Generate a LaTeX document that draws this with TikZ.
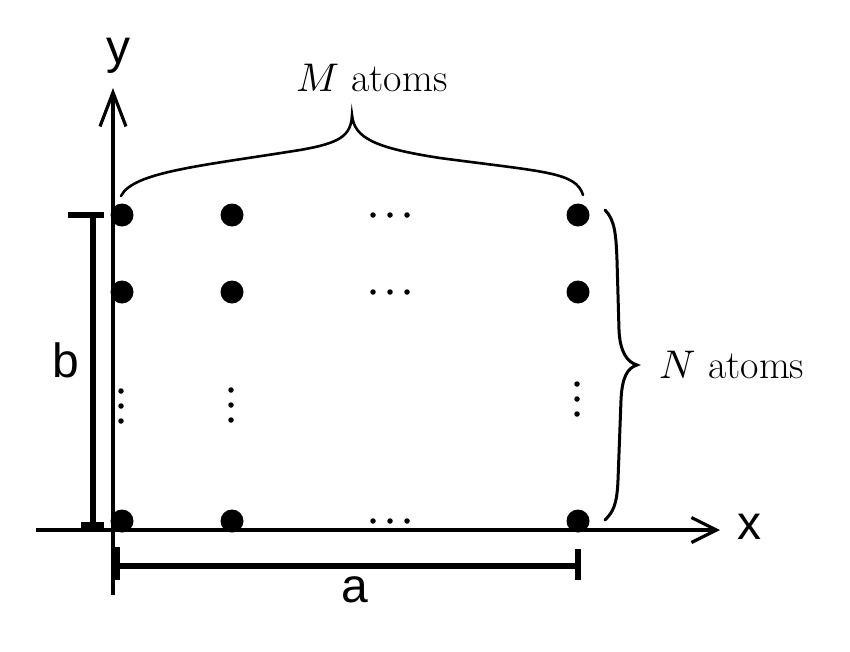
\documentclass[tikz,border=0pt]{standalone}
\usepackage{fontspec}
\usepackage{unicode-math}
\setmathfont{Latin Modern Math}
\newfontfamily\axisfont{Liberation Sans}
\usetikzlibrary{arrows.meta}
\tikzset{
  atom/.style={circle,fill=black,inner sep=0pt,minimum size=23pt},
  tinydot/.style={circle,fill=black,inner sep=0pt,minimum size=5.5pt},
  axisline/.style={line width=3.8pt},
  barline/.style={line width=6pt},
  braceline/.style={line width=2.6pt},
  axislabel/.style={font=\axisfont\fontsize{48}{56}\selectfont,inner sep=0pt},
  countlabel/.style={font=\fontsize{40}{48}\selectfont,inner sep=0pt}
}
\begin{document}
\begin{tikzpicture}[x=1pt,y=-1pt]
\useasboundingbox (0,0) rectangle (850,651);
% axes
\coordinate (ybot) at (113,595);
\coordinate (ytop) at (113,88);
\coordinate (xleft) at (36,530);
\coordinate (xright) at (720,530);
\draw[axisline,-{Straight Barb[length=34pt,width=26pt,line width=3.2pt]}] (ybot) -- (ytop);
\draw[axisline,-{Straight Barb[length=25pt,width=25pt,line width=3.2pt]}] (xleft) -- (xright);
\node[axislabel] (ylab) at (118,56) {y};
\node[axislabel] (xlab) at (749,527) {x};
% atoms
\node[atom] (a11) at (122,215) {};
\node[atom] (a12) at (232,215) {};
\node[atom] (a1m) at (578,215) {};
\node[atom] (a21) at (122,292) {};
\node[atom] (a22) at (232,292) {};
\node[atom] (a2m) at (578,292) {};
\node[atom] (an1) at (122,521) {};
\node[atom] (an2) at (232,521) {};
\node[atom] (anm) at (578,521) {};
% horizontal ellipses
\foreach \r/\yy in {1/215,2/292,3/521}{
  \node[tinydot] (h\r a) at (373,\yy) {};
  \node[tinydot] (h\r b) at (390,\yy) {};
  \node[tinydot] (h\r c) at (407,\yy) {};
}
% vertical ellipses
\foreach \c/\xx/\ys in {1/121/391,2/231/390,3/577/384}{
  \node[tinydot] (v\c a) at (\xx,\ys) {};
  \node[tinydot] (v\c b) at (\xx,\ys+15) {};
  \node[tinydot] (v\c c) at (\xx,\ys+30) {};
}
% b bar
\coordinate (btop) at (93,215);
\coordinate (bbot) at (93,525);
\draw[barline] (btop) -- (bbot);
\draw[barline] (68,215) -- (104,215);
\draw[barline] (81,525) -- (104,525);
\node[axislabel] (blab) at (66,360) {b};
% a bar
\coordinate (aleft) at (117,566);
\coordinate (aright) at (578,566);
\draw[barline] (aleft) -- (aright);
\draw[barline] (117,547) -- (117,580);
\draw[barline] (578,549) -- (578,580);
\node[axislabel] (alab) at (355,590) {a};
% top brace
\coordinate (tb1) at (121,196);
\coordinate (tbtip) at (352,115);
\coordinate (tb2) at (583,195);
\draw[braceline,line cap=round] (tb1) .. controls (133,172) and (200,166) .. (300,150)
  .. controls (340,143) and (351,136) .. (tbtip)
  .. controls (354,138) and (375,148) .. (440,158)
  .. controls (545,172) and (576,172) .. (tb2);
\node[countlabel] (mlab) at (372,78) {$M$ atoms};
% right brace
\coordinate (rb1) at (605,210);
\coordinate (rbtip) at (637,365);
\coordinate (rb2) at (605,520);
\draw[braceline,line width=3pt,line cap=round] (rb1) .. controls (615,220) and (616,235) .. (617,260)
  -- (619,330) .. controls (620,352) and (627,362) .. (rbtip)
  .. controls (627,368) and (622,378) .. (621,400)
  -- (618,480) .. controls (617,505) and (613,512) .. (rb2);
\node[countlabel] (nlab) at (732,365) {$N$ atoms};
\end{tikzpicture}
\end{document}
